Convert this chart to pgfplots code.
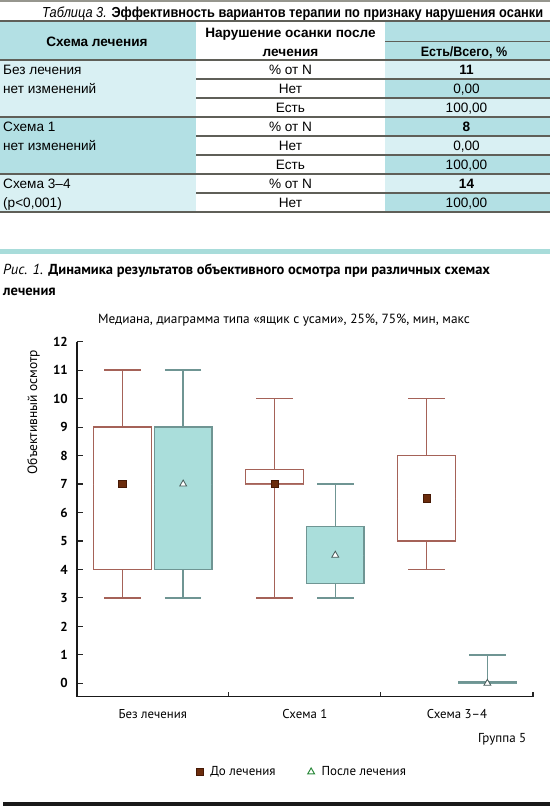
\documentclass[border=0pt]{standalone}
\usepackage{fontspec}
\setmainfont{PT Sans}
\newfontfamily\tabfont{Liberation Sans}
\usepackage{graphicx}
\usepackage{pgfplots}
\pgfplotsset{compat=1.18}
\usepgfplotslibrary{statistics}
\definecolor{tblue}{RGB}{179,224,228}
\definecolor{tlight}{RGB}{217,240,243}
\definecolor{tline}{RGB}{95,95,88}
\definecolor{ttop}{RGB}{150,150,142}
\definecolor{cbar}{RGB}{168,220,218}
\definecolor{boxred}{RGB}{165,98,88}
\definecolor{boxteal}{RGB}{111,149,147}
\definecolor{tealfill}{RGB}{170,222,219}
\definecolor{sqfill}{RGB}{107,44,12}
\definecolor{sqdraw}{RGB}{70,25,5}
\definecolor{tridraw}{RGB}{70,90,88}
\definecolor{legtri}{RGB}{46,139,62}
\begin{document}
\begin{tikzpicture}
\path[use as bounding box] (0pt,0pt) rectangle (550pt,810pt);
\begin{scope}[x=1pt,y=-1pt,shift={(0pt,810pt)},
  tb/.style={font=\tabfont\fontsize{13.6}{15}\selectfont, inner sep=0pt, anchor=base},
  tbl/.style={tb, anchor=base west}]
% backgrounds
\fill[tblue] (0,22) rectangle (196,60);
\fill[tblue] (385,22) rectangle (550,60);
\fill[tlight] (0,60) rectangle (196,117);
\fill[tblue] (0,117) rectangle (196,174);
\fill[tlight] (0,174) rectangle (196,212);
\fill[tlight] (385,60) rectangle (550,79);
\fill[tblue] (385,79) rectangle (550,98);
\fill[tlight] (385,98) rectangle (550,117);
\fill[tblue] (385,117) rectangle (550,136);
\fill[tlight] (385,136) rectangle (550,155);
\fill[tblue] (385,155) rectangle (550,174);
\fill[tlight] (385,174) rectangle (550,193);
\fill[tblue] (385,193) rectangle (550,212);
% lines
\draw[ttop, line width=2pt] (0,1) -- (550,1);
\foreach \yy in {21,60,117,174,212} \draw[tline, line width=2.3pt] (0,\yy) -- (550,\yy);
\draw[tline, line width=1.3pt] (385,41.5) -- (550,41.5);
\foreach \yy in {79,98,136,155,193} \draw[tline, line width=1.3pt] (196,\yy) -- (550,\yy);
% title
\node[anchor=base west, inner sep=0pt] at (42,17.5) {\resizebox{501pt}{\height}{\tabfont\fontsize{14.5}{16}\selectfont\itshape Таблица 3. \upshape\bfseries Эффективность вариантов терапии по признаку нарушения осанки}};
% header
\node[tb] at (97,46.5) {\bfseries Схема лечения};
\node[tb] at (290.5,37.7) {\bfseries Нарушение осанки после};
\node[tb] at (290.5,56.5) {\bfseries лечения};
\node[tb] at (464,56.5) {\scalebox{0.92}[1]{\bfseries Есть/Всего, \%}};
% col1
\node[tbl] at (3,74.2) {Без лечения};
\node[tbl] at (3,93.2) {нет изменений};
\node[tbl] at (3,131.2) {Схема 1};
\node[tbl] at (3,150.2) {нет изменений};
\node[tbl] at (3,188.2) {Схема 3–4};
\node[tbl] at (3,207.2) {(p<0,001)};
% col2
\node[tb] at (290.5,74.2) {\% от N};
\node[tb] at (290.5,93.2) {Нет};
\node[tb] at (290.5,112.2) {Есть};
\node[tb] at (290.5,131.2) {\% от N};
\node[tb] at (290.5,150.2) {Нет};
\node[tb] at (290.5,169.2) {Есть};
\node[tb] at (290.5,188.2) {\% от N};
\node[tb] at (290.5,207.2) {Нет};
% col3
\node[tb] at (466.5,74.2) {\bfseries 11};
\node[tb] at (466.5,93.2) {0,00};
\node[tb] at (466.5,112.2) {100,00};
\node[tb] at (466.5,131.2) {\bfseries 8};
\node[tb] at (466.5,150.2) {0,00};
\node[tb] at (466.5,169.2) {100,00};
\node[tb] at (466.5,188.2) {\bfseries 14};
\node[tb] at (466.5,207.2) {100,00};
% cyan bar
\fill[cbar] (0,249.5) rectangle (550,254.5);
% figure caption
\node[anchor=base west, inner sep=0pt, font=\fontsize{14.5}{17}\selectfont] at (3,275) {\itshape Рис. 1. \upshape\bfseries Динамика результатов объективного осмотра при различных схемах};
\node[anchor=base west, inner sep=0pt, font=\fontsize{14.5}{17}\selectfont] at (3,296) {\bfseries лечения};
\node[anchor=base, inner sep=0pt, font=\fontsize{13.3}{15}\selectfont] at (284,323.5) {Медиана, диаграмма типа «ящик с усами», 25\%, 75\%, мин, макс};
% bottom bar
\fill[black!90] (3,802.5) rectangle (550,806.5);
\end{scope}
\begin{axis}[
  at={(76.7pt,113.3pt)}, anchor=south west,
  scale only axis, width=456.3pt, height=355pt,
  xmin=-0.5, xmax=2.5, ymin=-0.47, ymax=12,
  axis x line*=bottom, axis y line*=left,
  axis line style={line width=1.6pt, black!90},
  clip=false,
  boxplot/draw direction=y,
  ytick={0,1,2,3,4,5,6,7,8,9,10,11,12},
  xtick={0,1,2},
  xticklabels={Без лечения, Схема 1, Схема 3–4},
  minor xtick={0.5,1.5,2.5},
  major x tick style={draw=none},
  tick align=inside,
  major tick length=6pt, minor tick length=5pt,
  every tick/.style={line width=1.1pt, black!85},
  /pgf/number format/assume math mode=true,
  yticklabel style={anchor=east, inner sep=0pt, xshift=-8.7pt, font=\bfseries\fontsize{13}{15}\selectfont},
  xticklabel style={anchor=base, inner sep=0pt, yshift=-21.8pt, font=\fontsize{12.8}{15}\selectfont},
  ylabel={Объективный осмотр},
  ylabel style={at={(axis description cs:-0.0947,0.802)}, anchor=center, font=\fontsize{13.5}{15}\selectfont},
  xlabel={Группа 5},
  xlabel style={at={(axis description cs:0.993,-0.119)}, anchor=east, font=\fontsize{13}{15}\selectfont},
  boxplot/every median/.style={draw=none},
  legend style={at={(0.494,-0.212)}, anchor=center, draw=none, fill=none,
    legend columns=2, font=\fontsize{13}{15}\selectfont,
    /tikz/every odd column/.append style={column sep=5pt},
    /tikz/every even column/.append style={column sep=30pt}},
  legend cell align=left,
]
% До лечения
\addplot[forget plot, draw=boxred, fill=white, line width=1.35pt,
  boxplot prepared={draw position=-0.2, lower whisker=3, lower quartile=4, median=7, upper quartile=9, upper whisker=11, box extend=0.38, whisker extend=0.24}] coordinates {};
\addplot[forget plot, draw=boxred, fill=white, line width=1.35pt,
  boxplot prepared={draw position=0.8, lower whisker=3, lower quartile=7, median=7, upper quartile=7.5, upper whisker=10, box extend=0.38, whisker extend=0.24}] coordinates {};
\addplot[forget plot, draw=boxred, fill=white, line width=1.35pt,
  boxplot prepared={draw position=1.8, lower whisker=4, lower quartile=5, median=6.5, upper quartile=8, upper whisker=10, box extend=0.38, whisker extend=0.24}] coordinates {};
% После лечения
\addplot[forget plot, draw=boxteal, fill=tealfill, line width=1.35pt,
  boxplot prepared={draw position=0.2, lower whisker=3, lower quartile=4, median=7, upper quartile=9, upper whisker=11, box extend=0.38, whisker extend=0.24}] coordinates {};
\addplot[forget plot, draw=boxteal, fill=tealfill, line width=1.35pt,
  boxplot prepared={draw position=1.2, lower whisker=3, lower quartile=3.5, median=4.5, upper quartile=5.5, upper whisker=7, box extend=0.38, whisker extend=0.24}] coordinates {};
\addplot[forget plot, draw=boxteal, fill=tealfill, line width=1.35pt,
  boxplot prepared={draw position=2.2, lower whisker=0, lower quartile=0, median=0, upper quartile=0.05, upper whisker=1, box extend=0.38, whisker extend=0.24}] coordinates {};
% medians
\addplot[forget plot, only marks, mark=square*, mark size=3.6pt, mark options={fill=sqfill, draw=sqdraw, line width=0.6pt}] coordinates {(-0.2,7) (0.8,7) (1.8,6.5)};
\addplot[forget plot, only marks, mark=triangle*, mark size=4pt, mark options={fill=white, draw=tridraw, line width=0.8pt}] coordinates {(0.2,7) (1.2,4.5) (2.2,0)};
\addlegendimage{only marks, mark=square*, mark size=3.6pt, mark options={fill=sqfill, draw=sqdraw, line width=0.6pt}}
\addlegendentry{До лечения}
\addlegendimage{only marks, mark=triangle*, mark size=4pt, mark options={fill=white, draw=legtri, line width=1pt}}
\addlegendentry{После лечения}
\end{axis}
\end{tikzpicture}
\end{document}
